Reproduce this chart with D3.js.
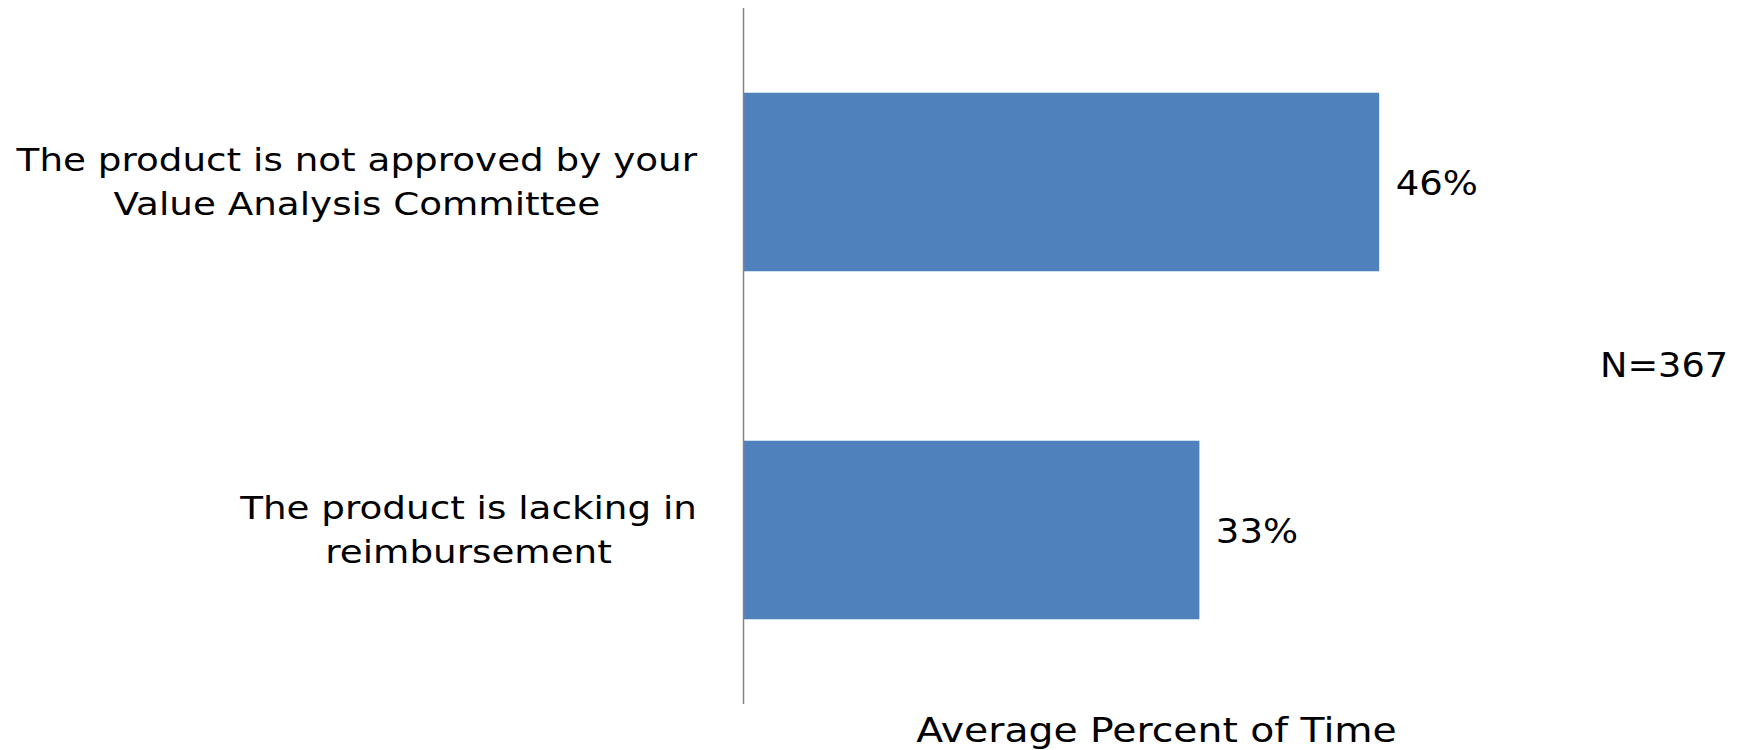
<!DOCTYPE html>
<html>
<head>
<meta charset="utf-8">
<script src="https://cdn.jsdelivr.net/npm/d3@7"></script>
<style>
  body { margin: 0; background: #fff; }
  text { font-family: "DejaVu Sans", sans-serif; fill: #000; }
</style>
</head>
<body>
<svg></svg>
<script>
var width = 1738;
var height = 750;

// chart data
var categories = [
  ["The product is not approved by your", "Value Analysis Committee"],
  ["The product is lacking in", "reimbursement"]
];
var values = [0.46, 0.33];
var sampleNote = "N=367";
var axisTitle = "Average Percent of Time";

var svg = d3.select("svg")
    .attr("width", width)
    .attr("height", height);

// widen glyphs a little, the original font is broader than DejaVu
function stretch(sel, k) {
    sel.each(function () {
        var w = this.getComputedTextLength();
        d3.select(this)
            .attr("textLength", w * k)
            .attr("lengthAdjust", "spacingAndGlyphs");
    });
    return sel;
}

var keys = categories.map((d, i) => i);

var yScale = d3.scaleBand()
    .domain(keys)
    .range([8, 704])
    .paddingInner(0.487)
    .paddingOuter(0.2435);

var xScale = d3.scaleLinear()
    .domain([0, 0.5])
    .range([743, 1434.5]);

var fmt = d3.format(".0%");

// bars
svg.selectAll(".bar")
    .data(values)
    .enter()
    .append("rect")
        .classed("bar", true)
        .attr("x", xScale(0))
        .attr("y", (d, i) => yScale(i))
        .attr("width", d => xScale(d) - xScale(0))
        .attr("height", yScale.bandwidth())
        .attr("fill", "#4f81bd");

// vertical axis line
svg.append("line")
    .attr("x1", xScale(0) + 0.5)
    .attr("x2", xScale(0) + 0.5)
    .attr("y1", yScale.range()[0])
    .attr("y2", yScale.range()[1])
    .attr("stroke", "#868686")
    .attr("stroke-width", 1.5);

// category labels: block right aligned, lines centered inside the block
var labelRight = 697;
var lineGap = 43.5;
categories.forEach((lines, i) => {
    var g = svg.append("g");
    var cy = yScale(i) + yScale.bandwidth() / 2;
    var texts = g.selectAll("text")
        .data(lines)
        .enter()
        .append("text")
            .attr("y", (d, j) => cy + (j - (lines.length - 1) / 2) * lineGap + 11)
            .attr("text-anchor", "middle")
            .style("font-size", "32px")
            .text(d => d);
    stretch(texts, 1.165);
    var maxW = d3.max(texts.nodes(), n => +n.getAttribute("textLength"));
    texts.attr("x", labelRight - maxW / 2);
});

// value labels
var vals = svg.selectAll(".val")
    .data(values)
    .enter()
    .append("text")
        .classed("val", true)
        .attr("x", d => xScale(d) + 16.5)
        .attr("y", (d, i) => yScale(i) + yScale.bandwidth() / 2 + 12.5)
        .style("font-size", "33px")
        .text(d => fmt(d));
stretch(vals, 1.12);

stretch(svg.append("text")
    .attr("x", 1600)
    .attr("y", 377)
    .style("font-size", "33px")
    .text(sampleNote), 1.11);

stretch(svg.append("text")
    .attr("x", 1156.5)
    .attr("y", 742)
    .attr("text-anchor", "middle")
    .style("font-size", "33px")
    .text(axisTitle), 1.19);
</script>
</body>
</html>
